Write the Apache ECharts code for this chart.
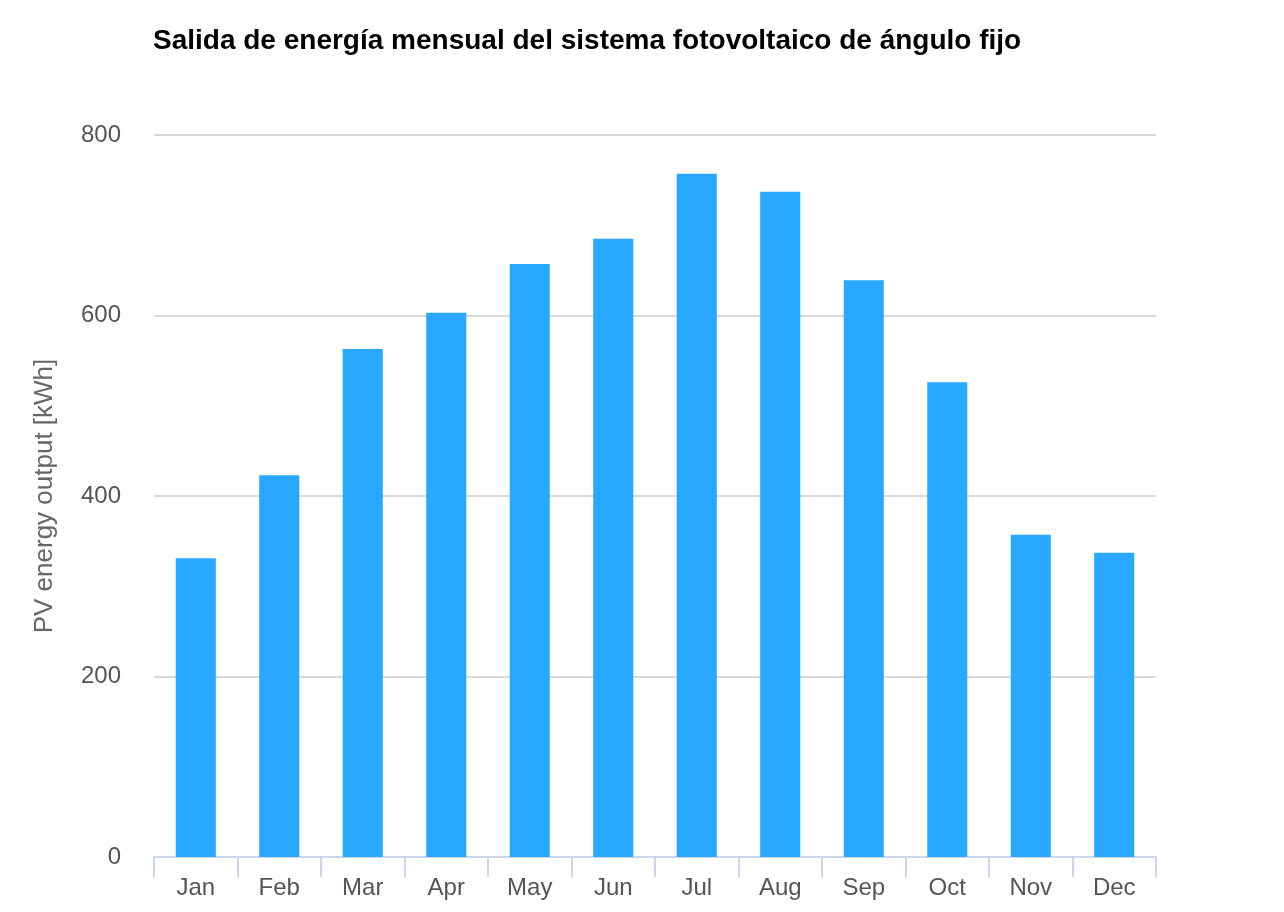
<!DOCTYPE html>
<html><head><meta charset="utf-8">
<script src="https://cdn.jsdelivr.net/npm/echarts@6/dist/echarts.min.js"></script>
<style>html,body{margin:0;padding:0;background:#fff}#c{width:1284px;height:912px}</style>
</head><body><div id="c"></div>
<script>
const months = ['Jan','Feb','Mar','Apr','May','Jun','Jul','Aug','Sep','Oct','Nov','Dec'];
const pvOutput = [331, 423, 563, 603, 657, 685, 757, 737, 639, 526, 357, 337];
const yTicks = [0, 200, 400, 600, 800];
const chart = echarts.init(document.getElementById('c'));
chart.setOption({
  animation: false,
  title: {
    text: 'Salida de energía mensual del sistema fotovoltaico de ángulo fijo',
    left: 148, top: 22,
    textStyle: {fontFamily: 'Liberation Sans, Arial, sans-serif', fontSize: 28, fontWeight: 'bold', color: '#000'}
  },
  grid: {left: 154, right: 128, top: 135, bottom: 55, containLabel: false},
  xAxis: {
    type: 'category', data: months,
    axisLine: {lineStyle: {color: '#ccd6eb', width: 2}},
    axisTick: {show: true, length: 20, lineStyle: {color: '#ccd6eb', width: 2}},
    axisLabel: {color: '#555', fontSize: 24, margin: 19, fontFamily: 'Liberation Sans, Arial, sans-serif'}
  },
  yAxis: {
    type: 'value', min: yTicks[0], max: yTicks[yTicks.length-1], interval: 200,
    name: 'PV energy output [kWh]', nameLocation: 'middle', nameGap: 96, nameRotate: 90,
    nameTextStyle: {color: '#666', fontSize: 26, fontFamily: 'Liberation Sans, Arial, sans-serif'},
    axisLine: {show: false}, axisTick: {show: false},
    splitLine: {lineStyle: {color: '#d9d9d9', width: 2}},
    axisLabel: {color: '#555', fontSize: 24, margin: 33, fontFamily: 'Liberation Sans, Arial, sans-serif'}
  },
  series: [{
    type: 'bar', data: pvOutput, barWidth: '48%',
    itemStyle: {color: '#2aa8ff'}
  }]
});
</script></body></html>
